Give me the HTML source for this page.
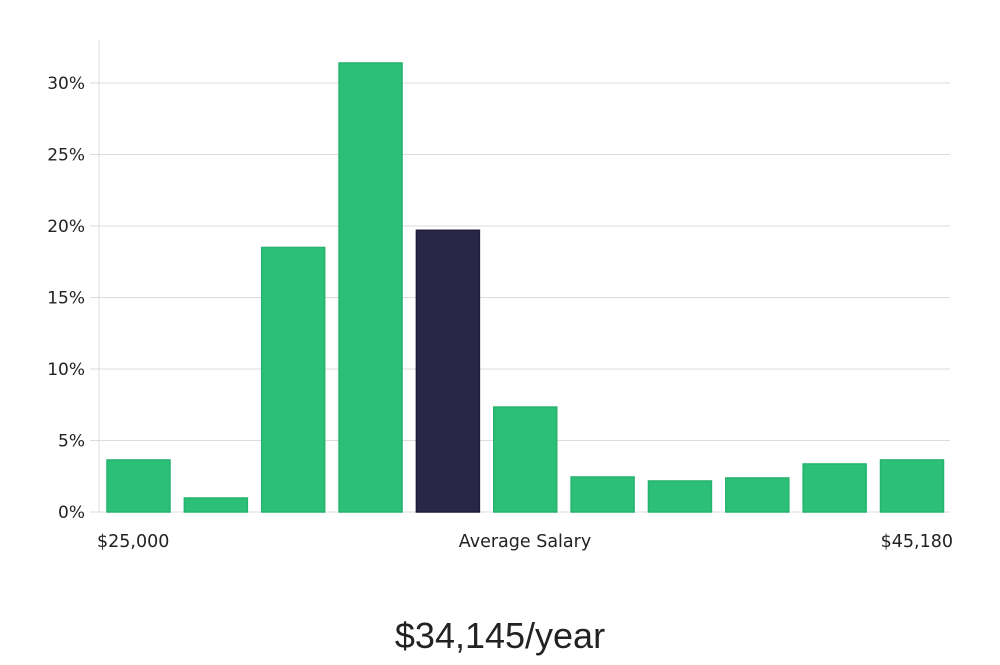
<!DOCTYPE html>
<html><head><meta charset="utf-8"><style>
body{margin:0;background:#fff;width:1000px;height:660px;overflow:hidden}
text{font-family:"DejaVu Sans","Liberation Sans",sans-serif}
</style></head><body>
<svg width="1000" height="660">
<g id="grid"></g>
<g id="bars"></g>
<g id="labels"></g>
<text x="500" y="648" text-anchor="middle" font-size="36" fill="#222" style="font-family:'Liberation Sans',sans-serif;font-weight:300">$34,145/year</text>
</svg>
<script>
const values=[3.64,0.98,18.5,31.4,19.7,7.34,2.45,2.17,2.38,3.36,3.64];
const highlight=[false,false,false,false,true,false,false,false,false,false,false];
const yTicks=[0,5,10,15,20,25,30];
const xLabels=["$25,000","Average Salary","$45,180"];
const NS="http://www.w3.org/2000/svg";
const y0=512,pxPer=14.3,left=99,right=950,pitch=77.35,bw=63,firstX=107;
const y=v=>y0-v*pxPer;
const x=i=>firstX+i*pitch;
function mk(t,a,p){const e=document.createElementNS(NS,t);for(const k in a)e.setAttribute(k,a[k]);p.appendChild(e);return e;}
const g=document.getElementById('grid');
yTicks.forEach(t=>{
 const l=mk('line',{x1:90,x2:right,y1:y(t),y2:y(t),stroke:'#dcdcdc','stroke-width':1},g);
 
 
 const tx=mk('text',{x:85,y:y(t)+6,'text-anchor':'end','font-size':17,fill:'#222'},g);
 tx.textContent=t+'%';
 
 
});
const ax=mk('line',{x1:left,x2:left,y1:40,y2:y0,stroke:'#dcdcdc','stroke-width':1},g);


const b=document.getElementById('bars');
values.forEach((v,i)=>{
 const r=mk('rect',{x:x(i),y:y(v),width:bw,height:v*pxPer,fill:highlight[i]?'#2a2647':'#2bbf77',stroke:highlight[i]?'#1e1b3a':'#27b36f','stroke-width':1.5},b);
 
 
});
const lb=document.getElementById('labels');
const pos=[[97,'start'],[525,'middle'],[953,'end']];
xLabels.forEach((s,i)=>{
 const t=mk('text',{x:pos[i][0],y:547,'text-anchor':pos[i][1],'font-size':17.5,fill:'#222'},lb);
 t.textContent=s;
 
 
});
</script>
</body></html>
